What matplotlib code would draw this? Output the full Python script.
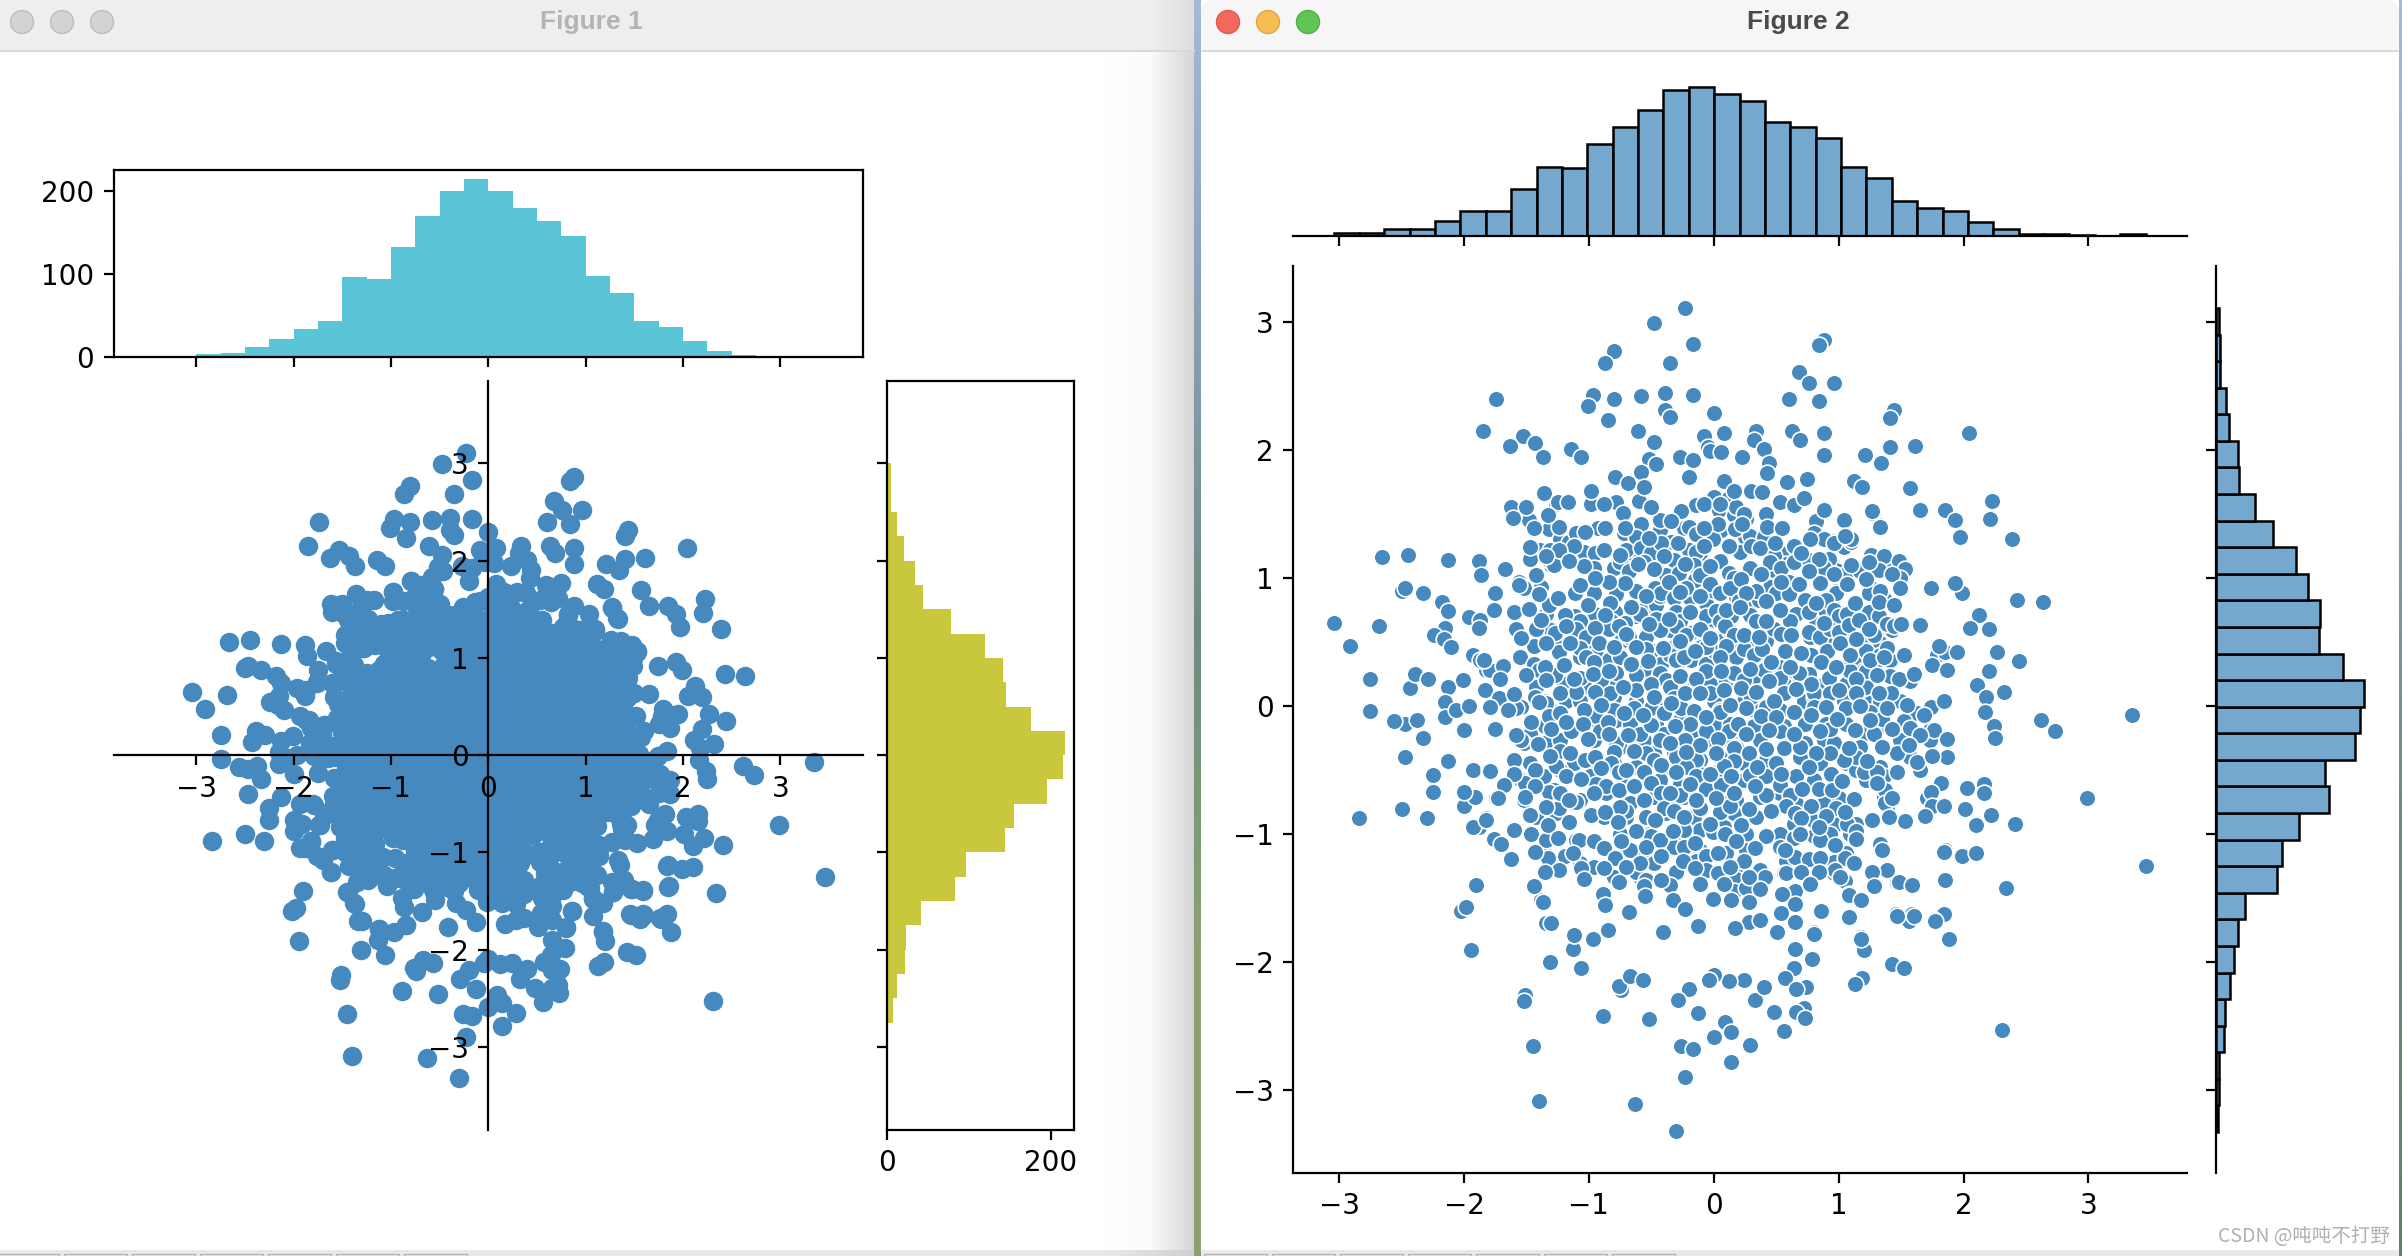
#!/usr/bin/env python3
import numpy as np
import matplotlib
matplotlib.use("Agg")
import matplotlib.pyplot as plt
from matplotlib.colors import LinearSegmentedColormap
from matplotlib.patches import Rectangle, Circle, FancyBboxPatch

W, H = 2402, 1256

# points (same data in both figures)
outer_points = [
    (-0.23,3.11),(-0.48,2.99),(-0.17,2.83),(-0.80,2.77),(-0.87,2.68),(-0.35,2.68),(0.88,2.86),(0.84,2.82),
    (0.68,2.61),(0.76,2.52),(0.96,2.52),(-0.97,2.43),(-0.80,2.40),(-0.58,2.42),(-0.39,2.44),(-0.17,2.43),
    (-1.01,2.34),(-0.39,2.31),(-0.35,2.26),(0.00,2.29),(-0.85,2.23),(-1.74,2.40),(0.60,2.40),(0.84,2.38),
    (1.44,2.31),(1.41,2.25),(2.04,2.13),(-1.85,2.15),(-1.53,2.11),(-1.43,2.05),(-1.63,2.03),(-1.37,1.94),
    (-1.14,2.01),(-1.06,1.94),(-0.61,2.15),(-0.48,2.06),(-0.08,2.11),(0.08,2.13),(0.34,2.15),(0.32,2.08),
    (0.63,2.15),(0.69,2.08),(0.88,2.13),(0.88,1.96),(1.21,1.96),(1.41,2.02),(1.61,2.03),(1.34,1.90),
    (-0.05,2.02),(-0.03,1.99),(0.06,1.98),(0.40,2.01),(0.23,1.94),(0.44,1.90),(-0.27,1.94),(-0.17,1.92),
    (-0.52,1.93),(-0.46,1.89),(1.57,1.70),(1.65,1.53),(2.23,1.60),(2.21,1.46),(1.85,1.53),(1.93,1.45),
    (1.97,1.32),(2.39,1.30),(1.32,1.41),(1.27,1.51),(2.43,0.83),(2.64,0.81),(1.99,0.88),(1.93,0.96),
    (1.74,0.92),(2.12,0.71),(2.20,0.60),(2.05,0.61),(2.27,0.42),(1.95,0.42),(2.44,0.35),(2.20,0.27),
    (2.11,0.16),(2.18,0.07),(2.32,0.11),(2.17,-0.05),(2.62,-0.11),(2.73,-0.20),(3.35,-0.07),(2.24,-0.16),
    (2.25,-0.25),(2.99,-0.72),(3.46,-1.25),(2.34,-1.42),(2.31,-2.53),(2.16,-0.61),(2.16,-0.68),(2.03,-0.64),
    (2.22,-0.85),(2.41,-0.92),(2.01,-0.81),(2.10,-0.93),(1.85,-1.13),(1.99,-1.17),(2.10,-1.15),(1.86,-1.35),
    (1.59,-1.39),(1.47,-1.38),(1.84,-1.63),(1.76,-1.67),(1.59,-1.63),(1.46,-1.63),(1.56,-1.68),(1.88,-1.82),
    (1.43,-2.02),(1.52,-2.05),(1.19,-2.13),(1.13,-2.17),(1.20,-1.91),(1.18,-1.81),(1.08,-1.65),(1.17,-1.52),
    (1.08,-1.47),(1.28,-1.41),(0.86,-1.60),(0.80,-1.77),(0.79,-1.98),(0.65,-1.90),(0.64,-2.05),(0.57,-2.13),
    (0.74,-2.20),(0.66,-2.21),(0.72,-2.36),(0.66,-2.39),(0.73,-2.44),(0.56,-2.54),(0.48,-2.39),(0.33,-2.30),
    (0.40,-2.20),(0.24,-2.14),(0.12,-2.15),(0.00,-2.10),(-0.04,-2.14),(-0.20,-2.21),(-0.29,-2.30),(-0.13,-2.40),
    (0.09,-2.47),(0.14,-2.55),(0.00,-2.59),(0.29,-2.65),(-0.26,-2.66),(-0.17,-2.68),(0.14,-2.78),(-0.23,-2.90),
    (-0.63,-3.11),(-1.40,-3.09),(-0.30,-3.32),(-1.45,-2.66),(-0.52,-2.45),(-0.89,-2.42),(-0.74,-2.22),(-0.76,-2.19),
    (-0.67,-2.11),(-0.57,-2.14),(-1.51,-2.26),(-1.52,-2.31),(-1.06,-2.05),(-1.31,-2.00),(-1.13,-1.90),(-1.12,-1.79),
    (-0.97,-1.82),(-0.85,-1.75),(-1.34,-1.70),(-1.38,-1.52),(-1.45,-1.41),(-1.94,-1.91),(-2.02,-1.60),(-1.98,-1.57),
    (-1.90,-1.40),(-1.62,-1.20),(-1.70,-1.07),(-1.76,-1.04),(-1.61,-0.97),(-1.88,-0.95),(-1.93,-0.95),(-1.82,-0.88),
    (-2.00,-0.78),(-1.91,-0.71),(-2.00,-0.67),(-1.74,-0.72),(-1.69,-0.62),(-2.25,-0.67),(-2.25,-0.54),(-2.30,-0.88),
    (-2.50,-0.81),(-2.84,-0.88),(-2.13,-0.43),(-1.93,-0.50),(-1.80,-0.50),(-2.47,-0.40),(-2.33,-0.25),(-2.47,-0.14),
    (-2.38,-0.11),(-2.56,-0.12),(-2.75,-0.04),(-2.43,0.14),(-2.39,0.25),(-2.29,0.21),(-2.75,0.21),(-2.91,0.47),
    (-3.04,0.65),(-2.68,0.62),(-2.66,1.16),(-2.45,1.18),(-2.50,0.90),(-2.47,0.92),(-2.33,0.88),(-2.18,0.81),
    (-2.13,0.74),(-2.13,1.14),(-1.88,1.13),(-1.86,1.02),(-1.67,1.07),(-1.75,0.88),(-1.76,0.74),(-1.96,0.69),
    (-1.87,0.67),(-1.88,0.61),(-2.15,0.61),(-2.24,0.55),(-2.16,0.52),(-2.10,0.46),(-1.93,0.40),(-1.87,0.36),
    (-2.13,0.15),(-2.01,0.20),(-2.15,0.03),(-2.15,-0.09),(-2.06,-0.03),(-1.96,0.00),(-2.00,-0.19),(-1.79,0.28),
    (-1.68,0.31),(-1.71,0.21),(-1.61,0.74),(-1.56,0.94),(-1.62,1.55),(-1.50,1.55),(-1.61,1.47),(-1.36,1.66),
    (-1.25,1.59),(-1.17,1.59),(-0.98,1.68),(-0.79,1.79),(-0.69,1.75),(-0.56,1.71),(-0.78,1.59),(-0.60,1.60),
]
# lowest layer of the dense middle, mostly covered in the picture
under_points = [
    (-1.39,1.22),(-1.30,1.10),(-1.19,1.23),(-1.04,1.20),(-1.07,0.94),(-0.94,1.19),(-0.95,1.03),(-0.75,1.10),(-0.63,1.18),(-0.59,1.32),(-0.55,1.22),(-0.43,1.37),(-0.46,1.24),(-0.34,1.28),(-0.24,1.39),(-0.16,1.35),(-0.19,1.20),(-0.11,1.19),(0.04,1.53),(0.16,1.49),(0.18,1.37),(0.25,1.32),(0.26,1.46),(0.32,1.33),(0.37,1.32),(0.54,1.19),(0.58,1.11),(0.65,1.26),(0.77,1.32),(0.82,1.45),(0.94,1.29),(1.04,1.24),(1.10,1.28),(0.93,1.15),(0.98,1.06),(0.98,0.90),(1.06,1.03),(1.33,1.15),(1.41,1.09),(1.53,1.06),
    (-1.34,0.72),(-1.30,0.59),(-1.12,0.59),(-1.07,0.70),(-1.12,0.88),(-0.95,0.72),(-0.78,0.67),(-0.75,0.62),(-0.62,0.70),(-0.55,0.76),(-0.46,0.79),(-0.43,0.86),(-0.19,0.84),(-0.15,0.98),(-0.06,0.80),(0.00,0.90),(0.12,0.90),(0.18,0.85),(0.29,0.77),(0.36,0.83),(0.45,0.93),(0.48,1.06),(0.60,0.97),(0.72,0.80),(0.89,0.75),(0.98,0.75),(1.05,0.63),(1.10,0.72),(1.24,0.73),(1.26,0.92),(1.37,0.83),
    (-1.23,0.46),(-1.06,0.53),(-0.98,0.46),(-0.74,0.51),(-0.68,0.54),(-0.54,0.54),(-0.48,0.43),(-0.35,0.59),(-0.32,0.46),(-0.19,0.57),(-0.10,0.46),(0.00,0.67),(0.06,0.51),(0.12,0.59),(0.18,0.49),(0.26,0.46),(0.42,0.51),(0.34,0.40),(0.77,0.54),(0.82,0.64),(0.92,0.54),(1.05,0.54),(1.20,0.54),(1.31,0.54),(1.43,0.59),(1.33,0.49),
    (-1.55,0.38),(-1.44,0.33),(-1.07,0.38),(-0.94,0.40),(-0.84,0.36),(-0.75,0.40),(-0.42,0.33),(-0.27,0.36),(-0.18,0.36),(-0.06,0.33),(0.00,0.43),(0.18,0.38),(0.53,0.30),(0.65,0.25),(0.76,0.25),(0.80,0.38),(1.05,0.30),(1.14,0.33),(1.20,0.28),(1.41,0.36),(1.31,0.36),
    (-1.42,0.15),(-1.31,0.23),(-1.20,0.17),(-1.03,0.15),(-0.90,0.15),(-0.80,0.17),(-0.62,0.15),(-0.56,0.28),(-0.35,0.17),(-0.16,0.15),(-0.03,0.17),(0.10,0.20),(0.16,0.25),(0.33,0.23),(0.40,0.28),(0.56,0.17),(0.69,0.20),(0.88,0.17),(0.93,0.23),(1.06,0.17),(1.22,0.15),(1.41,0.23),
    (-1.35,0.04),(-1.54,-0.01),(-1.18,0.04),(-1.07,0.04),(-0.80,0.07),(-0.62,0.04),(-0.43,-0.03),(-0.30,0.07),(-0.22,-0.03),(0.00,0.04),(0.05,-0.03),(0.24,0.04),(0.32,-0.03),(0.53,-0.03),(0.72,0.04),(0.80,0.07),(1.04,0.02),(1.25,0.02),(1.49,0.04),(1.63,-0.06),
    (-1.35,-0.16),(-1.47,-0.22),(-1.30,-0.03),(-0.96,-0.11),(-0.78,-0.11),(-0.67,-0.14),(-0.46,-0.14),(-0.40,-0.22),(-0.27,-0.11),(0.02,-0.16),(0.13,-0.14),(0.32,-0.16),(0.56,-0.16),(0.74,-0.14),(0.90,-0.14),(1.06,-0.14),(1.20,-0.22),(1.33,-0.16),(1.55,-0.16),(1.73,-0.19),
    (-1.52,-0.29),(-1.35,-0.29),(-1.23,-0.27),(-0.96,-0.27),(-0.75,-0.32),(-0.56,-0.27),(-0.48,-0.37),(-0.32,-0.37),(-0.16,-0.24),(-0.06,-0.27),(0.13,-0.27),(0.18,-0.32),(0.37,-0.27),(0.58,-0.29),(0.73,-0.29),(0.88,-0.27),(0.96,-0.29),(1.17,-0.32),(1.49,-0.27),(1.73,-0.27),
    (-1.47,-0.45),(-1.28,-0.42),(-1.12,-0.45),(-0.99,-0.42),(-0.80,-0.45),(-0.62,-0.48),(-0.35,-0.48),(-0.22,-0.45),(-0.11,-0.42),(0.05,-0.40),(0.24,-0.45),(0.42,-0.42),(0.69,-0.40),(0.85,-0.45),(1.06,-0.45),(1.14,-0.50),(1.33,-0.48),(1.57,-0.40),
    (-1.54,-0.58),(-1.36,-0.55),(-1.23,-0.50),(-0.99,-0.55),(-0.94,-0.61),(-0.72,-0.58),(-0.54,-0.58),(-0.43,-0.58),(-0.27,-0.61),(-0.11,-0.53),(0.05,-0.50),(0.24,-0.58),(0.48,-0.53),(0.64,-0.55),(0.80,-0.58),(1.22,-0.58),(1.36,-0.55),
    (-1.52,-0.74),(-1.28,-0.66),(-1.12,-0.76),(-0.86,-0.68),(-0.67,-0.76),(-0.48,-0.71),(-0.32,-0.76),(-0.24,-0.71),(-0.03,-0.66),(0.08,-0.76),(0.18,-0.74),(0.37,-0.71),(0.53,-0.68),(0.66,-0.76),(0.88,-0.76),(1.04,-0.76),(1.36,-0.71),
    (-1.42,-0.87),(-1.26,-0.84),(-1.07,-0.74),(-0.88,-0.87),(-0.70,-0.87),(-0.54,-0.87),(-0.38,-0.84),(-0.16,-0.87),(0.05,-0.87),(0.16,-0.84),(0.34,-0.87),(0.64,-0.92),(0.80,-0.89),(0.98,-0.92),(1.14,-0.92),(1.39,-0.79),
    (-1.47,-1.00),(-1.31,-1.00),(-1.10,-1.05),(-0.75,-1.00),(-0.51,-1.00),(-0.24,-1.00),(-0.11,-0.97),(0.08,-0.95),(0.26,-1.00),(0.53,-1.00),(0.82,-1.00),(0.93,-1.00),(1.09,-1.00),
    (-1.36,-1.15),(-1.07,-1.23),(-0.70,-1.10),(-0.56,-1.13),(-0.46,-1.05),(-0.32,-1.10),(-0.11,-1.13),(0.10,-1.15),(0.26,-1.13),(0.58,-1.21),(0.74,-1.21),(0.90,-1.21),(1.06,-1.15),(1.33,-1.08),
    (-1.26,-1.26),(-0.96,-1.26),(-0.80,-1.34),(-0.59,-1.34),(-0.30,-1.31),(-0.14,-1.21),(0.21,-1.34),(0.37,-1.28),(0.56,-1.31),(0.96,-1.31),(1.04,-1.36),
]
# partly hidden discs in the dense middle
hidden_points = [
    (-1.55,1.53),(-1.26,1.58),(-0.98,1.58),(-0.78,1.60),(-0.60,1.61),(-0.14,1.57),(0.00,1.63),(0.12,1.62),(0.18,1.55),(0.24,1.50),(0.42,1.50),(0.82,1.44),
    (-1.48,1.45),(-1.32,1.38),(-0.93,1.39),(-0.72,1.35),(-0.58,1.42),(-0.62,1.32),(-0.43,1.45),(-0.20,1.40),(-0.14,1.34),(0.06,1.37),(0.17,1.38),(0.29,1.33),(0.40,1.32),(0.80,1.35),(0.88,1.30),
    (-1.23,1.30),(-1.16,1.28),(-1.10,1.35),(-1.31,1.22),(-1.32,1.14),(-1.04,1.20),(-0.95,1.19),(-0.70,1.22),(-0.58,1.23),(-0.50,1.19),(-0.42,1.27),(-0.20,1.22),(-0.14,1.20),(-0.01,1.30),(0.21,1.20),(0.30,1.25),(0.48,1.17),(0.64,1.25),(0.77,1.30),(0.92,1.15),(0.96,1.27),(1.10,1.30),(1.26,1.18),(1.36,1.17),(1.48,1.13),(1.53,1.07),
    (-1.47,1.15),(-1.28,1.10),(-1.56,0.97),(-0.96,1.08),(-0.80,1.08),(-0.75,1.12),(-0.68,1.05),(-0.56,1.12),(-0.32,1.14),(-0.38,1.02),(-0.28,1.04),(-0.16,1.10),(-0.11,1.02),(0.05,1.13),(0.12,1.04),(0.16,1.00),(0.29,1.08),(0.45,1.12),(0.54,1.08),(0.64,1.12),(0.76,1.14),(0.88,1.08),(0.96,1.03),(1.32,1.06),(1.49,1.00),(1.17,1.05),
    (-1.52,0.92),(-1.38,0.93),(-1.11,0.88),(-0.96,0.88),(-0.78,0.87),(-0.62,0.90),(-0.47,0.92),(-0.42,0.88),(-0.32,0.84),(-0.22,0.92),(-0.03,0.95),(0.05,0.88),(0.13,0.92),(0.20,0.82),(0.34,0.90),(0.50,0.88),(0.60,0.87),(0.73,0.83),(0.98,0.88),(1.24,0.88),(1.33,0.90),(0.90,0.83),
    (-1.32,0.79),(-1.11,0.70),(-1.07,0.66),(-0.79,0.73),(-0.82,0.66),(-0.71,0.65),(-0.59,0.72),(-0.46,0.68),(-0.30,0.73),(-0.27,0.66),(-0.06,0.70),(0.02,0.74),(0.05,0.66),(0.14,0.70),(0.29,0.71),(0.34,0.66),(0.66,0.72),(0.61,0.66),(0.76,0.73),(0.96,0.75),(1.00,0.70),(1.07,0.72),(1.32,0.70),(1.39,0.64),(1.44,0.62),(-1.58,0.60),
    (-1.42,0.60),(-1.27,0.57),(-1.10,0.60),(-1.02,0.54),(-0.84,0.60),(-0.76,0.62),(-0.70,0.56),(-0.43,0.59),(-0.30,0.62),(-0.22,0.55),(0.09,0.62),(0.16,0.55),(0.48,0.60),(0.54,0.56),(0.76,0.58),(0.85,0.54),(0.93,0.60),(1.00,0.58),(1.08,0.63),(1.28,0.55),
    (-1.44,0.47),(-1.24,0.42),(-1.07,0.45),(-1.02,0.38),(-0.75,0.38),(-0.54,0.44),(-0.35,0.40),(-0.30,0.36),(-0.24,0.38),(-0.06,0.46),(0.10,0.47),(0.24,0.44),(0.32,0.40),(0.39,0.44),(0.78,0.40),(0.91,0.43),(1.22,0.43),(1.33,0.40),(1.79,0.40),(1.85,0.42),
    (-1.82,0.28),(-1.40,0.28),(-1.27,0.24),(-1.07,0.22),(-0.90,0.20),(-0.78,0.26),(-0.62,0.24),(-0.43,0.26),(-0.38,0.20),(-0.06,0.27),(0.16,0.26),(0.24,0.20),(0.53,0.22),(0.68,0.26),(0.92,0.22),(1.09,0.27),(1.22,0.27),(1.57,0.19),
    (-1.83,0.12),(-1.72,0.06),(-1.43,0.07),(-1.34,0.02),(-1.10,0.11),(-0.83,0.10),(-0.62,0.12),(-0.35,0.15),(-0.32,0.06),(-0.03,0.10),(0.08,0.12),(0.30,0.07),(0.56,0.10),(0.80,0.10),(0.93,0.10),(1.04,0.04),(1.33,0.04),
    (-1.58,-0.02),(-1.32,-0.08),(-1.23,-0.06),(-0.94,-0.08),(-0.80,-0.03),(-0.64,-0.02),(-0.50,-0.02),(-0.40,-0.06),(-0.26,-0.02),(-0.16,-0.04),(0.05,-0.05),(0.26,-0.02),(0.42,-0.01),(0.80,-0.01),(1.06,-0.02),(1.25,-0.05),(1.52,-0.12),(1.35,-0.10),
    (-1.54,-0.27),(-1.30,-0.18),(-1.14,-0.20),(-0.91,-0.20),(-0.78,-0.29),(-0.59,-0.22),(-0.50,-0.15),(-0.43,-0.27),(-0.06,-0.20),(0.12,-0.20),(0.53,-0.20),(0.73,-0.14),(0.93,-0.18),(1.28,-0.22),(1.57,-0.17),(1.76,-0.19),
    (-1.23,-0.35),(-1.03,-0.42),(-0.80,-0.36),(-0.82,-0.45),(-0.54,-0.37),(-0.48,-0.42),(-0.30,-0.40),(-0.14,-0.42),(0.16,-0.33),(0.16,-0.43),(0.56,-0.33),(0.69,-0.32),(1.14,-0.40),(1.04,-0.42),(1.47,-0.37),(1.87,-0.40),
    (-1.51,-0.60),(-1.26,-0.47),(-0.76,-0.52),(-0.56,-0.52),(-0.22,-0.48),(-0.14,-0.55),(0.08,-0.47),(0.29,-0.54),(0.42,-0.55),(0.66,-0.55),(0.80,-0.58),(1.20,-0.52),(1.31,-0.52),(1.65,-0.50),
    (-1.32,-0.67),(-1.10,-0.75),(-0.86,-0.63),(-0.50,-0.60),(-0.42,-0.68),(-0.27,-0.70),(-0.06,-0.65),(0.06,-0.62),(0.42,-0.70),(0.53,-0.62),(0.61,-0.70),(0.84,-0.65),(1.00,-0.72),(1.37,-0.66),(1.71,-0.72),
    (-1.47,-0.85),(-1.24,-0.80),(-0.70,-0.82),(-0.40,-0.80),(-0.32,-0.82),(-0.11,-0.80),(0.05,-0.83),(0.13,-0.78),(0.58,-0.78),(0.65,-0.84),(0.80,-0.90),(0.98,-0.80),(1.07,-0.92),(1.37,-0.76),
    (-1.46,-1.00),(-1.34,-1.05),(-1.08,-1.05),(-0.50,-1.02),(-0.43,-1.05),(-0.24,-0.97),(-0.01,-0.99),(0.09,-1.00),(0.64,-1.03),(0.80,-1.02),(0.85,-1.05),(1.14,-0.98),
    (-1.33,-1.19),(-1.19,-1.17),(-0.67,-1.13),(-0.54,-1.10),(-0.24,-1.10),(-0.06,-1.17),(0.53,-1.10),(0.65,-1.18),(0.76,-1.20),(0.96,-1.22),(1.05,-1.19),
    (-1.24,-1.28),(-1.06,-1.27),(-0.62,-1.30),(-0.48,-1.23),(-0.30,-1.30),(-0.06,-1.28),(0.18,-1.35),(0.58,-1.31),(0.97,-1.28),(1.05,-1.37),
    (-0.54,-1.36),(-0.35,-1.40),(0.16,-1.45),(0.26,-1.42),(0.65,-1.45),
]
inner_points = [
    (-0.88,1.58),(-0.50,1.55),(-0.73,1.51),(-0.08,1.58),(0.05,1.58),(0.53,1.59),(0.64,1.57),(0.88,1.53),
    (-0.26,1.52),(-0.34,1.44),(0.03,1.42),(0.23,1.42),(0.43,1.40),(0.55,1.39),(-0.71,1.39),(-0.87,1.39),
    (-1.03,1.36),(-1.24,1.40),(-1.44,1.39),(1.04,1.45),(-0.08,1.39),(-1.33,1.49),(-0.52,1.31),(-0.29,1.27),
    (-0.08,1.25),(0.12,1.25),(0.37,1.23),(0.49,1.27),(0.70,1.19),(0.84,1.15),(1.05,1.33),(-1.12,1.25),
    (-1.24,1.22),(-1.47,1.24),(-0.88,1.22),(-0.75,1.18),(-1.34,1.17),(-0.40,1.17),(-0.48,1.07),(-0.23,1.11),
    (-0.03,1.09),(0.22,0.99),(0.38,1.03),(1.10,1.10),(1.24,1.12),(1.43,1.03),(1.49,0.92),(-1.04,1.09),
    (-1.42,1.02),(-1.16,1.13),(-0.61,1.11),(-0.71,0.96),(-0.84,0.97),(-0.95,1.00),(-0.36,0.97),(0.68,0.95),
    (0.85,0.96),(1.07,0.95),(1.22,0.99),(0.54,0.97),(0.76,1.05),(-0.54,0.86),(-0.27,0.89),(-0.11,0.86),
    (0.26,0.88),(0.42,0.82),(0.82,0.80),(1.13,0.80),(1.32,0.81),(1.44,0.79),(-1.40,0.87),(-1.25,0.84),
    (-1.07,0.94),(-0.83,0.80),(-1.01,0.79),(-1.19,0.71),(-0.87,0.71),(-0.66,0.77),(-0.36,0.68),(-0.19,0.73),
    (0.10,0.75),(0.21,0.77),(0.53,0.75),(0.42,0.66),(0.88,0.65),(1.16,0.67),(1.50,0.64),(1.65,0.63),
    (-1.38,0.67),(-1.60,0.73),(-1.48,0.76),(-1.76,0.75),(1.24,0.60),(-0.95,0.61),(-0.52,0.64),(-0.11,0.60),
    (0.24,0.55),(0.36,0.54),(0.62,0.55),(1.01,0.49),(-1.54,0.53),(-1.18,0.62),(-0.03,0.53),(1.14,0.52),
    (-1.34,0.49),(-0.92,0.49),(-0.27,0.51),(-0.41,0.45),(-0.62,0.46),(-0.15,0.43),(0.57,0.43),(0.70,0.41),
    (1.09,0.40),(1.52,0.40),(1.39,0.45),(1.80,0.47),(-0.80,0.46),(-1.15,0.49),(-1.84,0.36),(-1.69,0.31),
    (-1.35,0.30),(-1.20,0.32),(-0.96,0.34),(-0.66,0.33),(-0.53,0.35),(0.05,0.38),(0.46,0.34),(0.61,0.30),
    (0.86,0.34),(0.98,0.30),(1.25,0.36),(1.75,0.32),(1.87,0.28),(0.29,0.29),(1.36,0.38),(-1.50,0.24),
    (-1.71,0.21),(-1.12,0.21),(-0.97,0.25),(-0.84,0.27),(-0.27,0.23),(0.06,0.27),(-0.14,0.21),(0.44,0.19),
    (0.78,0.17),(1.00,0.12),(1.31,0.24),(1.48,0.21),(1.60,0.25),(-1.34,0.20),(-0.50,0.17),(1.14,0.21),
    (-0.73,0.15),(-0.95,0.11),(-1.23,0.10),(-1.60,0.09),(-0.48,0.07),(-0.23,0.10),(0.22,0.14),(0.66,0.13),
    (0.48,0.04),(1.42,0.10),(1.14,0.10),(1.32,0.10),(-0.11,0.10),(0.34,0.11),(-1.79,-0.01),(-1.40,0.03),
    (-1.65,-0.03),(-0.90,0.01),(-0.72,-0.06),(0.13,0.01),(0.64,-0.05),(0.78,-0.07),(0.90,-0.01),(1.17,0.00),
    (1.39,-0.02),(1.55,0.01),(1.74,-0.01),(1.84,0.04),(-1.04,-0.03),(-0.34,0.02),(-1.46,-0.13),(-1.18,-0.13),
    (-1.05,-0.14),(-0.85,-0.13),(-0.57,-0.07),(-0.19,-0.14),(-0.06,-0.09),(0.19,-0.14),(0.38,-0.08),(0.50,-0.09),
    (0.99,-0.10),(1.25,-0.11),(1.43,-0.18),(1.68,-0.07),(-1.75,-0.18),(0.85,-0.20),(0.44,-0.19),(1.13,-0.19),
    (-0.31,-0.16),(-1.58,-0.23),(-1.41,-0.30),(-1.01,-0.26),(-0.84,-0.22),(-0.69,-0.23),(-0.23,-0.27),(0.03,-0.26),
    (0.26,-0.22),(1.65,-0.23),(1.87,-0.26),(1.35,-0.32),(1.08,-0.33),(1.56,-0.31),(0.64,-0.22),(-0.11,-0.31),
    (-1.15,-0.37),(-1.60,-0.42),(-0.64,-0.35),(-0.35,-0.29),(-0.22,-0.36),(0.42,-0.34),(0.28,-0.37),(0.93,-0.37),
    (0.82,-0.37),(1.23,-0.43),(1.63,-0.44),(1.75,-0.39),(-0.95,-0.40),(-1.31,-0.39),(0.02,-0.37),(-1.79,-0.51),
    (-1.60,-0.53),(-1.43,-0.50),(-0.90,-0.49),(-0.70,-0.50),(-0.42,-0.46),(-0.03,-0.53),(0.14,-0.55),(0.35,-0.48),
    (0.50,-0.45),(0.54,-0.53),(0.76,-0.48),(1.47,-0.52),(-1.18,-0.55),(-1.06,-0.57),(1.31,-0.60),(0.94,-0.53),
    (-0.30,-0.52),(-1.68,-0.62),(-1.43,-0.63),(-1.23,-0.68),(-0.76,-0.66),(-0.64,-0.63),(-0.19,-0.61),(0.33,-0.63),
    (0.71,-0.65),(0.95,-0.66),(1.03,-0.59),(1.82,-0.60),(1.74,-0.67),(-0.35,-0.68),(0.16,-0.68),(-0.96,-0.68),
    (-1.73,-0.72),(-1.51,-0.71),(-1.34,-0.79),(-1.16,-0.74),(-0.75,-0.79),(-0.56,-0.74),(-0.14,-0.74),(0.28,-0.81),
    (0.46,-0.82),(1.12,-0.73),(1.43,-0.72),(1.75,-0.78),(0.78,-0.78),(1.84,-0.78),(0.02,-0.72),(-1.82,-0.89),
    (-1.60,-0.97),(-1.33,-0.93),(-1.16,-0.91),(-0.98,-0.85),(-0.87,-0.83),(-0.77,-0.91),(-0.24,-0.87),(-0.03,-0.92),
    (0.22,-0.93),(0.70,-0.88),(0.90,-0.86),(1.05,-0.83),(1.27,-0.89),(1.53,-0.90),(1.69,-0.86),(1.40,-0.87),
    (0.84,-0.95),(-0.47,-0.89),(-1.70,-1.08),(-1.25,-1.03),(-1.43,-1.14),(-0.96,-1.06),(-0.62,-0.98),(-0.33,-0.98),
    (0.42,-1.02),(0.69,-1.00),(1.14,-1.04),(0.18,-1.06),(-0.15,-1.07),(0.97,-1.09),(1.35,-1.13),(1.84,-1.14),
    (0.33,-1.11),(0.57,-1.13),(-0.74,-1.06),(-1.62,-1.20),(-1.13,-1.15),(-0.88,-1.11),(-0.42,-1.17),(0.03,-1.15),
    (-0.79,-1.19),(-0.25,-1.21),(0.24,-1.21),(1.12,-1.23),(0.85,-1.19),(-0.59,-1.23),(-1.35,-1.30),(-1.04,-1.35),
    (-0.88,-1.27),(-0.70,-1.26),(0.03,-1.31),(0.13,-1.26),(0.70,-1.30),(0.84,-1.30),(0.41,-1.34),(0.28,-1.34),
    (1.39,-1.28),(1.01,-1.34),(1.27,-1.30),(-0.15,-1.27),(-1.44,-1.41),(-0.76,-1.38),(-0.56,-1.41),(-0.42,-1.36),
    (-0.11,-1.39),(0.55,-1.47),(1.28,-1.41),(1.48,-1.38),(1.59,-1.40),(1.85,-1.36),(0.08,-1.39),(0.37,-1.43),
    (0.77,-1.39),(-1.37,-1.53),(-0.89,-1.47),(-0.87,-1.56),(-0.33,-1.52),(-0.01,-1.51),(0.14,-1.52),(0.28,-1.53),
    (0.65,-1.55),(1.08,-1.48),(1.18,-1.52),(-0.55,-1.49),(-1.30,-1.70),(-0.68,-1.61),(-0.23,-1.59),(-0.13,-1.72),
    (0.28,-1.69),(0.54,-1.62),(0.65,-1.69),(0.86,-1.60),(1.47,-1.64),(1.60,-1.64),(1.77,-1.68),(0.17,-1.74),
    (0.37,-1.67),(-1.12,-1.79),(-0.85,-1.75),(-0.41,-1.77),(0.51,-1.77),(0.80,-1.78),(1.18,-1.82),(-0.79,1.79),
    (-0.69,1.74),(-0.58,1.83),(-0.20,1.79),(0.08,1.76),(0.30,1.68),(0.39,1.67),(0.59,1.75),(0.75,1.77),
    (1.12,1.76),(1.19,1.71),(1.27,1.52),(1.33,1.40),(0.72,1.62),(-0.98,1.68),(-0.56,1.71),(0.16,1.68),(0.43,1.82),
]
all_points = under_points + hidden_points + outer_points + inner_points
scatter_x = [p[0] for p in all_points]
scatter_y = [p[1] for p in all_points]

# figure 1 histograms, bin width 0.25
hist1_top_start = -3.0
hist1_top_counts = [3,4,12,21,33,43,96,94,132,170,200,215,200,180,164,146,97,77,43,36,19,7,2,1]
hist1_right_start = -2.75
hist1_right_counts = [8,13,22,24,42,83,97,144,155,195,215,217,176,145,142,120,78,44,34,21,13,5,5]

# figure 2 histograms
hist2_top_range = (-3.044, 3.457)
hist2_top_counts = [3,3,8,8,17,28,28,54,80,78,106,126,145,168,172,164,156,132,126,113,80,67,40,32,28,16,8,2,2,1,0,2]
hist2_right_range = (-3.33, 3.108)
hist2_right_counts = [2,3,3,9,11,17,21,26,35,73,79,99,136,131,167,173,177,152,123,125,110,96,68,47,28,26,15,12,5,5,3]

ticks = [-3, -2, -1, 0, 1, 2, 3]

BLUE = "#4689be"
HIST_BLUE = "#75a8cf"
CYAN = "#5ac5d6"
OLIVE = "#c9c83c"


def px_axes(fig, left, top, right, bottom, **kw):
    return fig.add_axes([left / W, 1 - bottom / H, (right - left) / W, (bottom - top) / H], **kw)


def gradient(fig, left, top, right, bottom, colors, horizontal=True):
    ax = px_axes(fig, left, top, right, bottom, zorder=-2)
    cmap = LinearSegmentedColormap.from_list("g", colors)
    ramp = np.linspace(0, 1, 256)
    ax.imshow(ramp[None, :] if horizontal else ramp[:, None], aspect="auto", cmap=cmap)
    ax.axis("off")


def window_chrome(fig):
    # fake mac window frames behind the plots
    gradient(fig, 1105, 52, 1196, 1250, ["#ffffff", "#fbfbfb", "#d4d4d4"])
    gradient(fig, 1105, 0, 1196, 50, ["#eeeeee", "#eeeeee", "#dedede"])
    gradient(fig, 1105, 1250, 1196, 1256, ["#e9e9e9", "#cfcfcf"])
    gradient(fig, 1194, 0, 1201, 1256, ["#a3bbd8", "#8c9fb5", "#6f8a80", "#8aa272", "#8aa272"], horizontal=False)
    gradient(fig, 2399, 0, 2402, 1256, ["#a3bbd8", "#8c9fb5", "#6f8a80", "#5f8268"], horizontal=False)

    bg = fig.add_axes([0, 0, 1, 1], zorder=-1)
    bg.set_xlim(0, W)
    bg.set_ylim(H, 0)
    bg.axis("off")
    bg.patch.set_alpha(0)

    bg.add_patch(Rectangle((0, 0), 1105, 50, fc="#eeeeee", ec="none"))
    bg.add_patch(Rectangle((0, 50), 1195, 2, fc="#d9d9d9", ec="none"))
    for cx in [22, 62, 102]:
        bg.add_patch(Circle((cx, 22), 11.5, fc="#d3d3d3", ec="#bdbdbd", lw=0.5))
    bg.text(591, 21.5, "Figure 1", ha="center", va="center", fontsize=9.5, fontweight="bold",
            family="Liberation Sans", color="#b4b4b4")

    bg.add_patch(FancyBboxPatch((1215, 14), 1170, 30, boxstyle="round,pad=14,rounding_size=14",
                                fc="#f6f6f6", ec="none"))
    bg.add_patch(Rectangle((1201, 50), 1198, 2, fc="#d9d9d9", ec="none"))
    bg.add_patch(Rectangle((1201, 52), 1198, 1198, fc="#ffffff", ec="none"))
    for cx, col, edge in [(1228, "#f2685c", "#dd5a4e"), (1268, "#f6bd50", "#dfa842"), (1308, "#61c554", "#52ad47")]:
        bg.add_patch(Circle((cx, 22), 11.5, fc=col, ec=edge, lw=0.5))
    bg.text(1798, 21.5, "Figure 2", ha="center", va="center", fontsize=9.5, fontweight="bold",
            family="Liberation Sans", color="#4a4a4a")

    # dock strip along the bottom
    bg.add_patch(Rectangle((0, 1250), 1105, 6, fc="#e9e9e9", ec="none"))
    bg.add_patch(Rectangle((1201, 1250), 1198, 6, fc="#e9e9e9", ec="none"))
    for x0 in [-4, 64, 132, 200, 268, 336, 404, 1204, 1272, 1340, 1408, 1476, 1544, 1612]:
        bg.add_patch(Rectangle((x0, 1254), 63, 6, fc="none", ec="#b5b5b5", lw=0.5))

    bg.text(2390, 1237, "CSDN @吨吨不打野", ha="right", va="center", fontsize=7,
            family=["Noto Sans CJK SC", "DejaVu Sans"], color="#b0b0b0")


def figure_one(fig):
    lim = 3.85
    ax = px_axes(fig, 113.5, 380.6, 863, 1129.7)
    ax.patch.set_alpha(0)
    ax.scatter(scatter_x, scatter_y, s=36, color=BLUE)
    ax.set_xlim(-lim, lim)
    ax.set_ylim(-lim, lim)
    ax.spines["left"].set_position("zero")
    ax.spines["bottom"].set_position("zero")
    ax.spines["top"].set_visible(False)
    ax.spines["right"].set_visible(False)
    ax.set_xticks(ticks)
    ax.set_yticks(ticks)

    top = px_axes(fig, 113.5, 170, 863, 356.7)
    edges = hist1_top_start + 0.25 * np.arange(len(hist1_top_counts))
    top.bar(edges, hist1_top_counts, width=0.25, align="edge", color=CYAN)
    top.set_xlim(-lim, lim)
    top.set_ylim(0, 225.6)
    top.set_xticks(ticks)
    top.set_xticklabels([])
    top.set_yticks([0, 100, 200])

    right = px_axes(fig, 886.7, 380.6, 1074, 1129.7)
    edges = hist1_right_start + 0.25 * np.arange(len(hist1_right_counts))
    right.barh(edges, hist1_right_counts, height=0.25, align="edge", color=OLIVE)
    right.set_ylim(-lim, lim)
    right.set_xlim(0, 228)
    right.set_yticks(ticks)
    right.set_yticklabels([])
    right.set_xticks([0, 200])


def figure_two(fig):
    xlim = (-3.369, 3.789)
    ylim = (-3.648, 3.436)
    ax = px_axes(fig, 1293, 266, 2187, 1172.7)
    ax.patch.set_alpha(0)
    ax.scatter(scatter_x, scatter_y, s=36, color=BLUE, edgecolors="white", linewidths=0.6)
    ax.set_xlim(xlim)
    ax.set_ylim(ylim)
    ax.spines["top"].set_visible(False)
    ax.spines["right"].set_visible(False)
    ax.set_xticks(ticks)
    ax.set_yticks(ticks)

    top = px_axes(fig, 1293, 80, 2187, 235.7)
    top.patch.set_alpha(0)
    edges = np.linspace(*hist2_top_range, len(hist2_top_counts) + 1)
    top.bar(edges[:-1], hist2_top_counts, width=np.diff(edges), align="edge",
            color=HIST_BLUE, edgecolor="black", linewidth=0.9)
    top.set_xlim(xlim)
    top.set_ylim(0, 180)
    top.set_xticks(ticks)
    top.set_xticklabels([])
    top.set_yticks([])
    for side in ["top", "right", "left"]:
        top.spines[side].set_visible(False)

    right = px_axes(fig, 2216, 266, 2372, 1172.7)
    right.patch.set_alpha(0)
    edges = np.linspace(*hist2_right_range, len(hist2_right_counts) + 1)
    right.barh(edges[:-1], hist2_right_counts, height=np.diff(edges), align="edge",
               color=HIST_BLUE, edgecolor="black", linewidth=0.9)
    right.set_ylim(ylim)
    right.set_xlim(0, 187)
    right.set_yticks(ticks)
    right.set_yticklabels([])
    right.set_xticks([])
    for side in ["top", "right", "bottom"]:
        right.spines[side].set_visible(False)


def main():
    fig = plt.figure(figsize=(W / 200, H / 200), dpi=200, facecolor="white")
    window_chrome(fig)
    figure_one(fig)
    figure_two(fig)
    fig.savefig("out.png", dpi=200)


if __name__ == "__main__":
    main()
